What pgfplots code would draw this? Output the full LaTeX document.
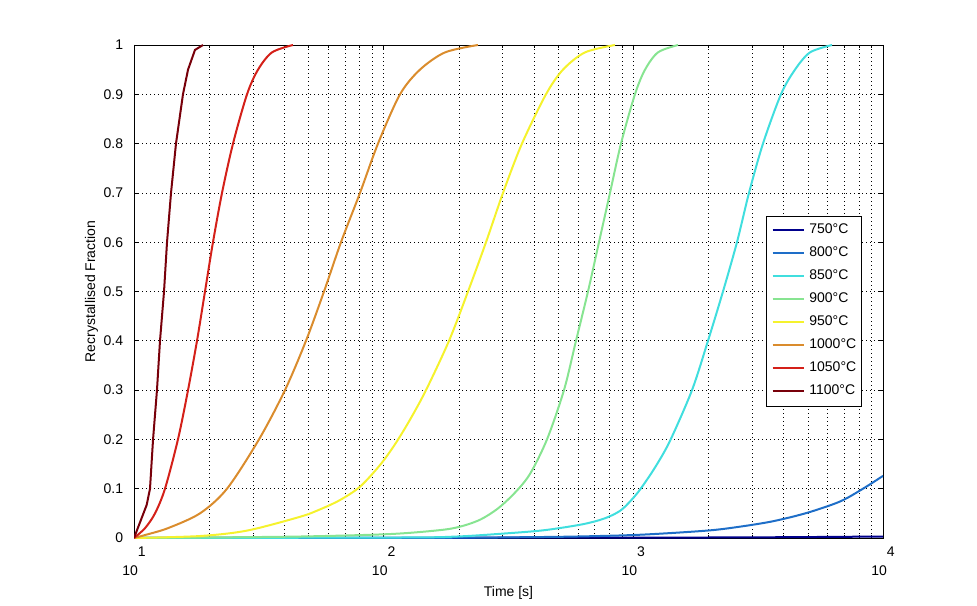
\documentclass[border=0pt]{standalone}
\usepackage{fontspec}
\setmainfont{Liberation Sans}
\usepackage{pgfplots}
\pgfplotsset{compat=1.18}

\definecolor{c750}{RGB}{0,0,140}
\definecolor{c800}{RGB}{30,110,200}
\definecolor{c850}{RGB}{64,222,222}
\definecolor{c900}{RGB}{135,228,145}
\definecolor{c950}{RGB}{245,242,45}
\definecolor{c1000}{RGB}{218,140,45}
\definecolor{c1050}{RGB}{212,32,25}
\definecolor{c1100}{RGB}{120,0,10}

\newcommand{\lbl}{\fontsize{14}{18.4}\selectfont}

\begin{document}
\begin{tikzpicture}
\begin{axis}[
    name=main,
    scale only axis,
    width=749pt, height=493pt,
    xmode=log,
    xmin=10, xmax=10000,
    ymin=0, ymax=1,
    xtick={10,100,1000,10000},
    xticklabels={{\phantom{10}1\\10\phantom{1}},{\phantom{10}2\\10\phantom{2}},
                 {\phantom{10}3\\10\phantom{3}},{\phantom{10}4\\10\phantom{4}}},
    ytick distance=0.1,
    tick align=inside,
    major tick length=5pt, minor tick length=3pt,
    xmajorgrids, xminorgrids, ymajorgrids,
    grid style={black, line width=0.6pt, dash pattern=on 0.8pt off 3.2pt},
    minor grid style={black, line width=0.6pt, dash pattern=on 0.8pt off 3.2pt},
    axis line style={black, line width=0.8pt},
    tick style={black, line width=0.6pt},
    /pgf/number format/assume math mode=true,
    every tick label/.append style={font=\lbl},
    label style={font=\lbl},
    xticklabel style={align=left, anchor=north, inner sep=0pt, yshift=-8.7pt},
    yticklabel style={anchor=east, inner sep=0pt, xshift=-10.7pt},
    xlabel={Time [s]},
    ylabel={Recrystallised Fraction},
    xlabel style={at={(axis description cs:0.5,0)}, anchor=base, yshift=-58pt},
    ylabel style={at={(axis description cs:0,0.5)}, anchor=base, yshift=39pt},
    legend style={at={(axis description cs:0.972,0.654)}, anchor=north east,
        draw=black, fill=white, line width=0.6pt,
        inner xsep=5.5pt, inner ysep=8pt, row sep=10pt,
        font=\fontsize{14}{16}\selectfont,
        nodes={inner sep=0pt, text height=10pt, text depth=3pt},
        /tikz/every odd column/.append style={column sep=4.7pt}},
    legend cell align=left,
    legend image code/.code={\draw[#1, line width=2pt] (0pt,0pt) -- (31pt,0pt);},
]
% 750 C
\addplot[c750, line width=2pt, smooth] coordinates {
    (10,0) (1063,0.0008) (3626,0.0015) (10000,0.003)
};
\addlegendentry{750°C}
% 800 C
\addplot[c800, line width=2pt, smooth] coordinates {
    (10,0) (184.4,0.0005) (314.8,0.0013) (578.5,0.0029) (1063,0.0066)
    (1973,0.015) (2674,0.023) (3626,0.034) (4961,0.051) (6726,0.074)
    (8315,0.1) (10000,0.126)
};
\addlegendentry{800°C}
% 850 C
\addplot[c850, line width=2pt, smooth] coordinates {
    (10,0) (116.3,0.001) (196.7,0.003) (311.9,0.0095) (442.8,0.016)
    (628.6,0.028) (770.0,0.04) (884.2,0.055) (969.7,0.074) (1063,0.098)
    (1221,0.143) (1402,0.197) (1718,0.3) (1991,0.4) (2286,0.5) (2601,0.6)
    (2906,0.7) (3306,0.8) (3903,0.9) (4441,0.95) (5100,0.985) (6247,1)
};
\addlegendentry{850°C}
% 900 C
\addplot[c900, line width=2pt, smooth] coordinates {
    (10,0) (18.38,0.001) (46.22,0.003) (106.0,0.008) (168.1,0.016)
    (202.2,0.023) (243.1,0.037) (287.0,0.06) (335.7,0.092) (385.6,0.13)
    (451.0,0.2) (527.5,0.3) (589.3,0.4) (658.3,0.5) (728.5,0.6)
    (806.3,0.7) (892.4,0.8) (1015,0.9) (1114,0.95) (1255,0.985) (1510,1)
};
\addlegendentry{900°C}
% 950 C
\addplot[c950, line width=2pt, smooth] coordinates {
    (10,0) (18.38,0.004) (28.35,0.015) (46.22,0.043) (55.58,0.058)
    (66.85,0.077) (80.39,0.104) (96.67,0.148) (111.0,0.19) (127.5,0.24)
    (147.8,0.3) (182.7,0.4) (217.7,0.5) (257.0,0.6) (300.6,0.7)
    (358.1,0.8) (446.9,0.9) (522.7,0.95) (640.2,0.985) (844.5,1)
};
\addlegendentry{950°C}
% 1000 C
\addplot[c1000, line width=2pt, smooth] coordinates {
    (10,0) (11.07,0.006) (13.68,0.02) (18.38,0.05) (23.58,0.1)
    (31.67,0.2) (40.25,0.3) (48.85,0.4) (57.68,0.5) (67.47,0.6)
    (80.39,0.7) (94.91,0.8) (116.3,0.9) (139.8,0.95) (176.1,0.985)
    (238.7,1)
};
\addlegendentry{1000°C}
% 1050 C
\addplot[c1050, line width=2pt, smooth] coordinates {
    (10,0) (11.07,0.02) (12.14,0.05) (13.31,0.1) (15.00,0.2)
    (16.46,0.3) (17.88,0.4) (19.25,0.5) (20.72,0.6) (22.52,0.7)
    (24.92,0.8) (28.36,0.9) (31.39,0.95) (35.70,0.985) (43.33,1)
};
\addlegendentry{1050°C}
% 1100 C
\addplot[c1100, line width=2pt] coordinates {
    (10,0) (11.24,0.067) (11.59,0.1) (11.92,0.2) (12.36,0.3) (12.71,0.4)
    (13.19,0.5) (13.56,0.6) (14.07,0.7) (14.73,0.8) (15.71,0.9)
    (16.46,0.95) (17.55,0.99) (18.90,1)
};
\addlegendentry{1100°C}
\end{axis}
\pgfresetboundingbox
\path[use as bounding box] ([shift={(-134pt,-67pt)}]main.south west)
    rectangle ([shift={(94pt,45pt)}]main.north east);
\end{tikzpicture}
\end{document}
